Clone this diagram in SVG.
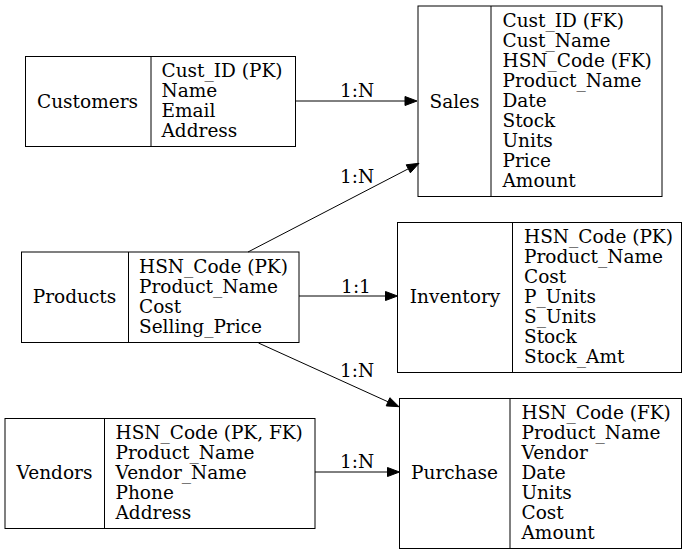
<svg xmlns="http://www.w3.org/2000/svg" width="688" height="555" viewBox="0 0 688 555">
<style>
text{font-family:"DejaVu Serif","Liberation Serif",serif;font-size:18.5px;fill:#000}
.box{fill:#fff;stroke:#000;stroke-width:1}
.div{stroke:#000;stroke-width:1}
.mid{text-anchor:middle}
.edge{stroke:#000;stroke-width:1;fill:none}
.head{fill:#000;stroke:#000;stroke-width:1}
</style>
<rect width="688" height="555" fill="#fff"/>
<g id="customers">
<rect class="box" x="25.5" y="56.5" width="270" height="90"/>
<line class="div" x1="151" y1="56.5" x2="151" y2="146.5"/>
<text class="mid" x="87.5" y="107.5">Customers</text>
<text x="161.5" y="76.5">Cust_ID (PK)</text>
<text x="161.5" y="96.5">Name</text>
<text x="161.5" y="116.5">Email</text>
<text x="161.5" y="136.5">Address</text>
</g>
<g id="sales">
<rect class="box" x="418" y="6" width="244" height="190.5"/>
<line class="div" x1="491" y1="6" x2="491" y2="196.5"/>
<text class="mid" x="454.5" y="107.5">Sales</text>
<text x="502.5" y="26.5">Cust_ID (FK)</text>
<text x="502.5" y="46.5">Cust_Name</text>
<text x="502.5" y="66.5">HSN_Code (FK)</text>
<text x="502.5" y="86.5">Product_Name</text>
<text x="502.5" y="106.5">Date</text>
<text x="502.5" y="126.5">Stock</text>
<text x="502.5" y="146.5">Units</text>
<text x="502.5" y="166.5">Price</text>
<text x="502.5" y="186.5">Amount</text>
</g>
<g id="products">
<rect class="box" x="21.5" y="252" width="277.5" height="90.5"/>
<line class="div" x1="128.5" y1="252" x2="128.5" y2="342.5"/>
<text class="mid" x="74.5" y="302.5">Products</text>
<text x="139" y="272.5">HSN_Code (PK)</text>
<text x="139" y="292.5">Product_Name</text>
<text x="139" y="312.5">Cost</text>
<text x="139" y="332.5">Selling_Price</text>
</g>
<g id="inventory">
<rect class="box" x="397.5" y="222.5" width="284" height="150"/>
<line class="div" x1="512.5" y1="222.5" x2="512.5" y2="372.5"/>
<text class="mid" x="455" y="302.5">Inventory</text>
<text x="524" y="242.5">HSN_Code (PK)</text>
<text x="524" y="262.5">Product_Name</text>
<text x="524" y="282.5">Cost</text>
<text x="524" y="302.5">P_Units</text>
<text x="524" y="322.5">S_Units</text>
<text x="524" y="342.5">Stock</text>
<text x="524" y="362.5">Stock_Amt</text>
</g>
<g id="vendors">
<rect class="box" x="5" y="418.5" width="310" height="110"/>
<line class="div" x1="104.5" y1="418.5" x2="104.5" y2="528.5"/>
<text class="mid" x="54.5" y="478.5">Vendors</text>
<text x="115.5" y="438.5">HSN_Code (PK, FK)</text>
<text x="115.5" y="458.5">Product_Name</text>
<text x="115.5" y="478.5">Vendor_Name</text>
<text x="115.5" y="498.5">Phone</text>
<text x="115.5" y="518.5">Address</text>
</g>
<g id="purchase">
<rect class="box" x="399.5" y="398.5" width="282" height="150"/>
<line class="div" x1="510" y1="398.5" x2="510" y2="548.5"/>
<text class="mid" x="454.5" y="478.5">Purchase</text>
<text x="521.5" y="418.5">HSN_Code (FK)</text>
<text x="521.5" y="438.5">Product_Name</text>
<text x="521.5" y="458.5">Vendor</text>
<text x="521.5" y="478.5">Date</text>
<text x="521.5" y="498.5">Units</text>
<text x="521.5" y="518.5">Cost</text>
<text x="521.5" y="538.5">Amount</text>
</g>
<g id="connectors">
<path class="edge" d="M295.5,101 L405,101"/>
<polygon class="head" points="417,101 405,96.5 405,105.5"/>
<text class="mid" x="357" y="96.5">1:N</text>
<path class="edge" d="M248,252 L408.3,168.8"/>
<polygon class="head" points="419,163.3 410.4,172.8 406.2,164.8"/>
<text class="mid" x="357" y="183">1:N</text>
<path class="edge" d="M299,296 L385.5,296"/>
<polygon class="head" points="397.5,296 385.5,291.5 385.5,300.5"/>
<text class="mid" x="356" y="292.5">1:1</text>
<path class="edge" d="M258.5,343 L388,401.8"/>
<polygon class="head" points="399,406.7 386.2,405.9 389.9,397.7"/>
<text class="mid" x="357" y="376.5">1:N</text>
<path class="edge" d="M315,472 L387.5,472"/>
<polygon class="head" points="399.5,472 387.5,467.5 387.5,476.5"/>
<text class="mid" x="357" y="468">1:N</text>
</g>
</svg>
